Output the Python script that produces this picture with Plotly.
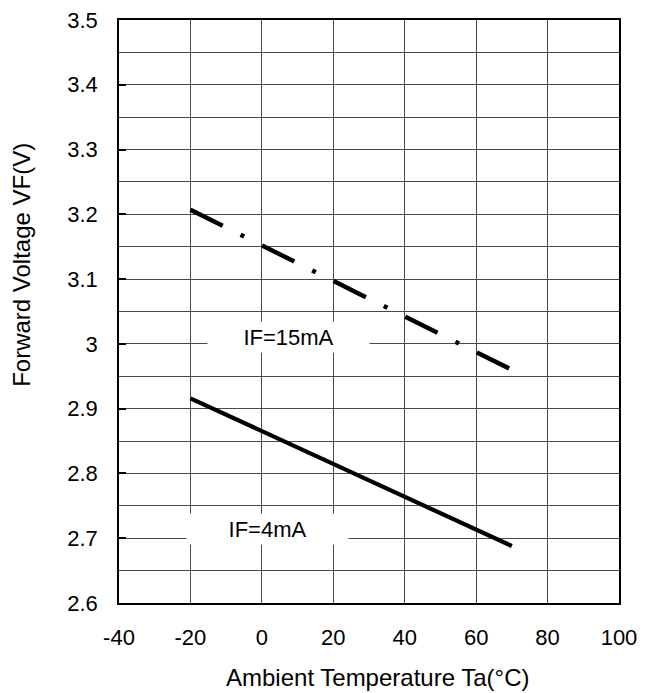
import plotly.graph_objects as go

# Data
temp_15mA = [-20, 70]
vf_15mA = [3.207, 2.960]
temp_4mA = [-20, 70]
vf_4mA = [2.916, 2.688]

x_ticks = [-40, -20, 0, 20, 40, 60, 80, 100]
y_ticks = [2.6, 2.7, 2.8, 2.9, 3.0, 3.1, 3.2, 3.3, 3.4, 3.5]
y_tick_text = ["2.6", "2.7", "2.8", "2.9", "3", "3.1", "3.2", "3.3", "3.4", "3.5"]

labels = ["IF=15mA", "IF=4mA"]
label_x = [7.5, 1.5]
label_y = [3.01, 2.714]

x_title = "Ambient Temperature Ta(°C)"
y_title = "Forward Voltage VF(V)"

FONT = "Liberation Sans, Arial, sans-serif"
FS = 22
TFS = 24

fig = go.Figure()
fig.add_trace(go.Scatter(x=temp_15mA, y=vf_15mA, mode="lines",
                         line=dict(color="black", width=4.5, dash="36px,20px,4px,20px"),
                         showlegend=False, hoverinfo="skip"))
fig.add_trace(go.Scatter(x=temp_4mA, y=vf_4mA, mode="lines",
                         line=dict(color="black", width=4.2),
                         showlegend=False, hoverinfo="skip"))

for t, lx, ly in zip(labels, label_x, label_y):
    fig.add_annotation(x=lx, y=ly, text=t, showarrow=False,
                       bgcolor="white", width=157, height=26, borderpad=2,
                       font=dict(family=FONT, size=FS, color="black"))

# axis titles as paper annotations (placed as in the reference)
fig.add_annotation(xref="paper", yref="paper", x=0.5175, y=-0.127,
                   xanchor="center", yanchor="middle", text=x_title,
                   showarrow=False, font=dict(family=FONT, size=TFS, color="black"))
fig.add_annotation(xref="paper", yref="paper", x=-0.194, y=0.58,
                   xanchor="center", yanchor="middle", text=y_title, textangle=-90,
                   showarrow=False, font=dict(family=FONT, size=TFS, color="black"))

grid_color = "#4a4a4a"
fig.update_xaxes(range=[-40, 100], tickmode="array", tickvals=x_ticks,
                 ticktext=[str(v) for v in x_ticks],
                 showgrid=True, gridcolor=grid_color, gridwidth=1,
                 showline=True, linecolor="black", linewidth=1.5, mirror=True,
                 ticks="", ticklabelstandoff=14, zeroline=False,
                 tickfont=dict(family=FONT, size=FS, color="black"))
fig.update_yaxes(range=[2.6, 3.5], tickmode="array", tickvals=y_ticks,
                 ticktext=y_tick_text,
                 showgrid=True, gridcolor=grid_color, gridwidth=1,
                 minor=dict(dtick=0.05, showgrid=True, gridcolor=grid_color, gridwidth=1),
                 showline=True, linecolor="black", linewidth=1.5, mirror=True,
                 ticks="inside", ticklen=7, tickcolor="black", tickwidth=1.5,
                 ticklabelstandoff=15, zeroline=False,
                 tickfont=dict(family=FONT, size=FS, color="black"))

fig.update_layout(width=654, height=693,
                  margin=dict(l=119, r=34.5, t=20, b=90, autoexpand=False),
                  plot_bgcolor="white", paper_bgcolor="white")

fig.write_html("out.html", config={"displayModeBar": False},
               post_script="document.body.style.margin='0';")
